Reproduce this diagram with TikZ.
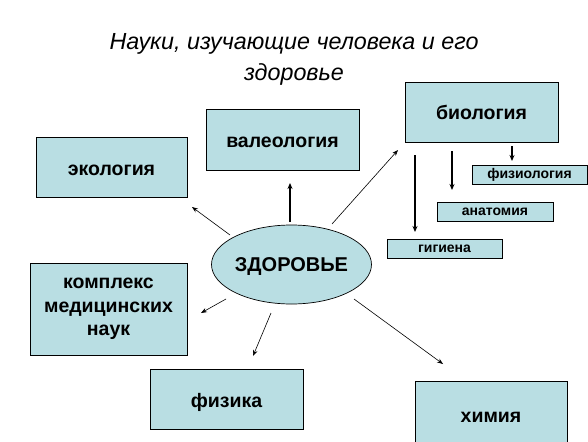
\documentclass[tikz,border=0pt]{standalone}
\usepackage{fontspec}
\setmainfont{Liberation Sans}
\usetikzlibrary{arrows.meta,shapes.geometric}
\definecolor{boxfill}{RGB}{185,222,227}
\tikzset{
  boxbase/.style={draw=black, line width=0.9pt, fill=boxfill, inner sep=0pt, align=center},
  bigbox/.style={boxbase, font=\fontsize{19.5}{23.5}\selectfont\bfseries, text height=16pt, text depth=0pt},
  multibox/.style={boxbase, font=\fontsize{19.5}{23.5}\selectfont\bfseries},
  smallbox/.style={boxbase, font=\fontsize{14}{16}\selectfont\bfseries, text height=8pt, text depth=0pt},
  thinarrow/.style={line width=0.6pt, -{Stealth[length=6pt,width=4.5pt]}},
  thickarrow/.style={line width=1.8pt, -{Stealth[length=6pt,width=5pt]}},
}
\begin{document}
\begin{tikzpicture}[x=1pt,y=-1pt]
\path[use as bounding box] (0,0) rectangle (588,441);
% title
\node (title) at (294,59) [align=center, font=\fontsize{23.3}{31}\selectfont\itshape]
  {Науки, изучающие человека и его\\здоровье};
% boxes
\node (eko) [bigbox, minimum width=151, minimum height=60] at (111.5,167) {экология};
\node (val) [bigbox, minimum width=153, minimum height=61] at (282.5,139.5) {валеология};
\node (bio) [bigbox, minimum width=153, minimum height=60] at (481.5,112) {биология};
\node (fiz) [smallbox, minimum width=115, minimum height=19] at (529.5,174.5) {физиология};
\node (ana) [smallbox, minimum width=116, minimum height=19] at (495,211.5) {анатомия};
\node (gig) [smallbox, minimum width=115, minimum height=19] at (444.5,248.5) {гигиена};
\node (kom) [multibox, minimum width=157, minimum height=92] at (108.5,309) {комплекс\\медицинских\\наук};
\node (fis) [bigbox, minimum width=153, minimum height=60] at (226.5,399) {физика};
\node (him) [bigbox, minimum width=152, minimum height=66] at (491,414) {химия};
\node (zd) [ellipse, draw=black, line width=0.7pt, fill=boxfill, minimum width=143, minimum height=79,
  inner sep=0pt, text height=14.3pt, text depth=0pt,
  font=\fontsize{20}{24}\selectfont\bfseries] at (291.5,264.5) {ЗДОРОВЬЕ};
% connector end points
\coordinate (a1s) at (290,222); \coordinate (a1e) at (290,183);
\coordinate (a2s) at (230,235); \coordinate (a2e) at (192,207);
\coordinate (a3s) at (332,224); \coordinate (a3e) at (398,150);
\coordinate (a4s) at (226,299); \coordinate (a4e) at (201,313);
\coordinate (a5s) at (271,313); \coordinate (a5e) at (253,356);
\coordinate (a6s) at (354,299); \coordinate (a6e) at (443,364);
\coordinate (b1s) at (512,146); \coordinate (b1e) at (512,161);
\coordinate (b2s) at (452,151); \coordinate (b2e) at (452,190);
\coordinate (b3s) at (415,155); \coordinate (b3e) at (415,232);
% connectors
\draw[thickarrow] (a1s) -- (a1e);
\draw[thinarrow] (a2s) -- (a2e);
\draw[thinarrow] (a3s) -- (a3e);
\draw[thinarrow] (a4s) -- (a4e);
\draw[thinarrow] (a5s) -- (a5e);
\draw[thinarrow] (a6s) -- (a6e);
\draw[thickarrow] (b1s) -- (b1e);
\draw[thickarrow] (b2s) -- (b2e);
\draw[thickarrow] (b3s) -- (b3e);
\end{tikzpicture}
\end{document}
